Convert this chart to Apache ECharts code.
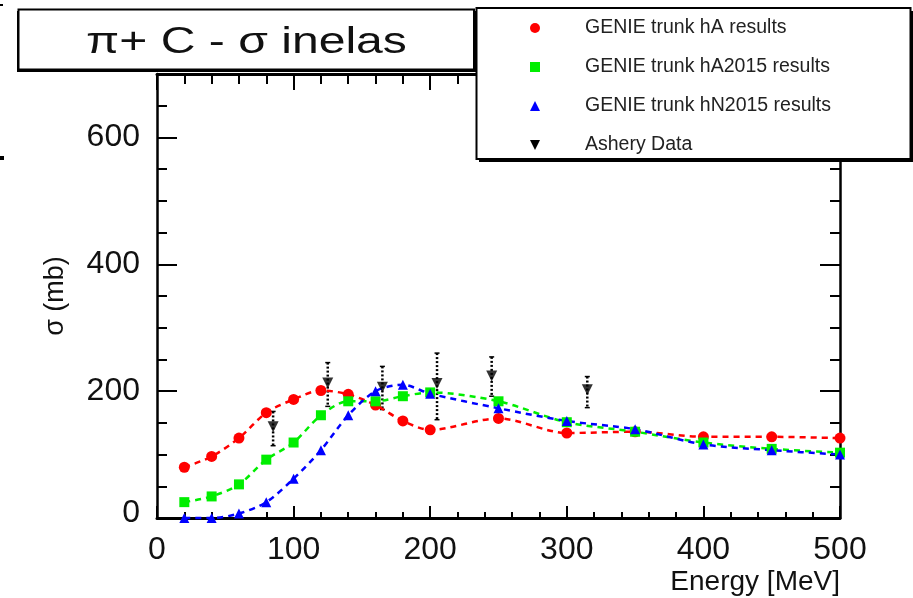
<!DOCTYPE html>
<html><head><meta charset="utf-8">
<script src="https://cdn.jsdelivr.net/npm/echarts@6/dist/echarts.min.js"></script>
<style>html,body{margin:0;padding:0;background:#fff}#c{width:913px;height:598px}</style>
</head><body><div id="c"></div><script>
// ---- data ----
const energy   = [20, 40, 60, 80, 100, 120, 140, 160, 180, 200, 250, 300, 350, 400, 450, 500];
const hA       = [80, 97, 126, 166, 187, 201, 195, 178, 153, 139, 157, 134, 136, 128, 128, 126];
const hA2015   = [25, 34, 53, 92, 119, 162, 184, 184, 192, 198, 184, 151, 136, 119, 109, 103];
const hN2015   = [0, 0, 7, 25, 62, 107, 162, 200, 210, 196, 173, 153, 140, 116, 107, 100];
const asheryE  = [85, 125, 165, 205, 245, 315];
const asheryS  = [144, 213, 206, 212, 224, 202];
const asheryLo = [114, 176, 171, 155, 192, 174];
const asheryHi = [168, 245, 239, 260, 254, 223];
const seriesNames = ['GENIE trunk hA results', 'GENIE trunk hA2015 results', 'GENIE trunk hN2015 results', 'Ashery Data'];
const titleText = 'π+ C - σ inelas';
const xName = 'Energy [MeV]';
const yName = 'σ (mb)';

const FONT = '"Liberation Sans", Arial, Helvetica, sans-serif';
const pair = (xs, ys) => xs.map((x, i) => [x, ys[i]]);
const chart = echarts.init(document.getElementById('c'), null, {renderer: 'canvas'});

const blk = '#000';
function xAx(pos, majorLen, minorLen, lw, labels) {
  return {
    type: 'value', position: pos, min: 0, max: 500, interval: 100,
    axisLine: {show: true, onZero: false, lineStyle: {color: blk, width: lw}},
    axisTick: {show: true, inside: true, length: majorLen, lineStyle: {color: blk, width: 2}},
    minorTick: {show: true, splitNumber: 5, length: minorLen, lineStyle: {color: blk, width: 2}},
    splitLine: {show: false},
    axisLabel: labels ? {show: true, fontSize: 32, color: '#111', fontFamily: FONT, margin: 16} : {show: false}
  };
}
function yAx(pos, interval, len, line, labels) {
  const a = {
    type: 'value', position: pos, min: 0, max: 700, interval: interval,
    axisLine: {show: line, onZero: false, lineStyle: {color: blk, width: 2.5}},
    axisTick: {show: true, inside: true, length: len, lineStyle: {color: blk, width: 2}},
    splitLine: {show: false},
    axisLabel: {show: false}
  };
  if (labels) {
    a.axisLabel = {
      show: true, fontSize: 32, color: '#111', fontFamily: FONT, margin: 17,
      formatter: v => (v % 200 === 0 && v <= 600) ? (v === 0 ? '{z|0}' : String(v)) : '',
      rich: {z: {fontSize: 32, color: '#111', fontFamily: FONT, padding: [0, 0, 10, 0]}}
    };
  }
  return a;
}

const xA = xAx('bottom', 12, 6, 3, true);
xA.name = xName; xA.nameLocation = 'end'; xA.nameGap = 0; xA.nameMoveOverlap = false;
xA.nameTextStyle = {fontSize: 28, color: '#111', fontFamily: FONT, align: 'right', verticalAlign: 'top', padding: [50, 0, 0, 0]};
const yA = yAx('left', 50, 10, true, true);
yA.name = yName; yA.nameLocation = 'middle'; yA.nameGap = 88; yA.nameMoveOverlap = false;
yA.nameTextStyle = {fontSize: 27, color: '#111', fontFamily: FONT};

const option = {
  backgroundColor: '#fff',
  animation: false,
  grid: {left: 157, right: 73, top: 74, bottom: 80, outerBoundsMode: 'none'},
  xAxis: [xA, xAx('top', 16, 10, 3, false)],
  yAxis: [yA, yAx('left', 200, 20, false, false), yAx('right', 50, 10, true, false), yAx('right', 200, 20, false, false)],
  legend: {
    orient: 'vertical', left: 525, top: 13, itemWidth: 10, itemHeight: 10, itemGap: 19,
    selectedMode: false, z: 10,
    textStyle: {fontSize: 19.5, fontFamily: FONT, color: '#222', lineHeight: 20, padding: [0, 0, 0, 40]},
    data: [
      {name: seriesNames[0], icon: 'circle', itemStyle: {color: '#ff0000'}},
      {name: seriesNames[1], icon: 'rect', itemStyle: {color: '#00ee00'}},
      {name: seriesNames[2], icon: 'triangle', itemStyle: {color: '#0000ff'}},
      {name: seriesNames[3], icon: 'path://M0,0 L10,0 L5,10 Z', itemStyle: {color: '#000'}}
    ]
  },
  graphic: [
    {type: 'rect', z: 5, shape: {x: 479, y: 11, width: 434, height: 151}, style: {fill: '#000'}},
    {type: 'rect', z: 6, shape: {x: 476.5, y: 8, width: 434, height: 151}, style: {fill: '#fff', stroke: '#000', lineWidth: 2}},
    {type: 'rect', z: 5, shape: {x: 17, y: 11, width: 459, height: 61}, style: {fill: '#000'}},
    {type: 'rect', z: 6, shape: {x: 18.5, y: 9.5, width: 455.5, height: 60}, style: {fill: '#fff', stroke: '#000', lineWidth: 2}},
    {type: 'text', z: 7, x: 246.5, y: 43, scaleX: 1.3, style: {text: titleText, fontSize: 37, fontFamily: FONT, fill: '#111', textAlign: 'center', textVerticalAlign: 'middle'}},
    {type: 'rect', z: 7, shape: {x: 0, y: 4, width: 3, height: 2}, style: {fill: '#000'}},
    {type: 'rect', z: 7, shape: {x: 0, y: 156, width: 4, height: 4}, style: {fill: '#000'}}
  ],
  series: [
    {name: seriesNames[0], type: 'line', data: pair(energy, hA), smooth: 0.3, clip: false,
     symbol: 'circle', symbolSize: 11, itemStyle: {color: '#ff0000'},
     lineStyle: {color: '#ff0000', width: 2.5, type: [6, 5]}},
    {name: seriesNames[1], type: 'line', data: pair(energy, hA2015), smooth: 0.3, clip: false,
     symbol: 'rect', symbolSize: 10, itemStyle: {color: '#00ee00'},
     lineStyle: {color: '#00ee00', width: 2.5, type: [6, 5]}},
    {name: seriesNames[2], type: 'line', data: pair(energy, hN2015), smooth: 0.3, clip: false,
     symbol: 'triangle', symbolSize: 10, itemStyle: {color: '#0000ff'},
     lineStyle: {color: '#0000ff', width: 2.5, type: [6, 5]}},
    {name: seriesNames[3], type: 'custom', z: 3, itemStyle: {color: '#000'},
     data: asheryE.map((e, i) => [e, asheryLo[i], asheryHi[i]]),
     encode: {x: 0, y: [1, 2]},
     renderItem: (params, api) => {
       const x = api.value(0);
       const t = api.coord([x, api.value(2)]);
       const b = api.coord([x, api.value(1)]);
       return {type: 'group', children: [
         {type: 'line', shape: {x1: t[0], y1: t[1], x2: b[0], y2: b[1]}, style: {stroke: '#000', lineWidth: 2.5, lineDash: [2, 2]}},
         {type: 'line', shape: {x1: t[0] - 2.5, y1: t[1], x2: t[0] + 2.5, y2: t[1]}, style: {stroke: '#000', lineWidth: 1.5}},
         {type: 'line', shape: {x1: b[0] - 2.5, y1: b[1], x2: b[0] + 2.5, y2: b[1]}, style: {stroke: '#000', lineWidth: 1.5}}
       ]};
     }},
    {name: seriesNames[3], type: 'scatter', z: 4, data: pair(asheryE, asheryS),
     symbol: 'triangle', symbolRotate: 180, symbolSize: 11, itemStyle: {color: '#000'}}
  ]
};
chart.setOption(option);
</script></body></html>
